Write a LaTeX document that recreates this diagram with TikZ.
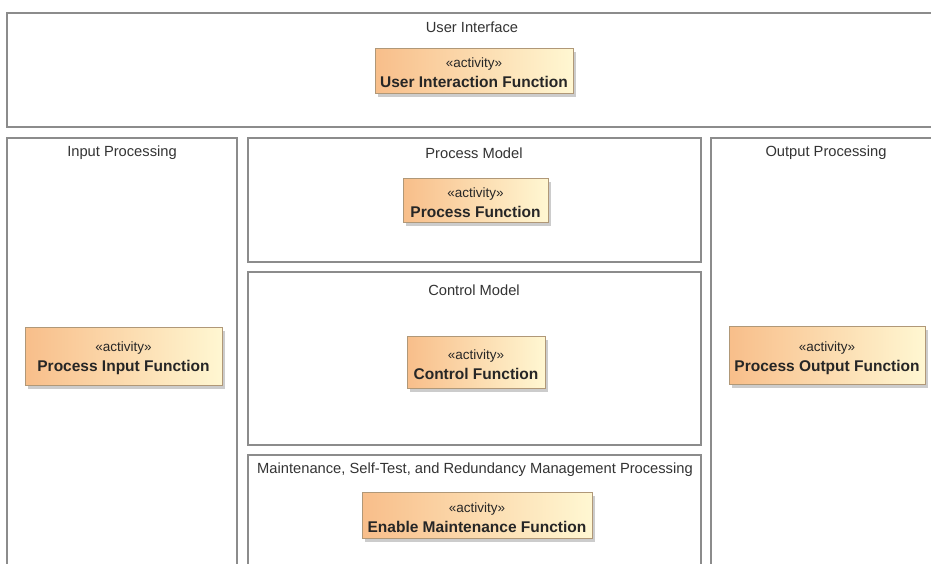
\documentclass[tikz,border=0pt]{standalone}
\usepackage{fontspec}
\setmainfont{Liberation Sans}
\usetikzlibrary{shadows}
\definecolor{framegray}{HTML}{8C8C8C}
\definecolor{actleft}{HTML}{F8BE8A}
\definecolor{actright}{HTML}{FFF7D2}
\definecolor{actborder}{HTML}{B09878}
\definecolor{titletext}{HTML}{333333}
% two-line activity label: stereotype over bold name
\newcommand{\actlabel}[1]{\rule{0pt}{15pt}{\fontsize{13.5}{15}\selectfont «activity»}\\[5pt]{\fontsize{15.5}{17}\selectfont\bfseries #1}}
\begin{document}
\begin{tikzpicture}[x=1pt,y=-1pt,
  frame/.style={draw=framegray, line width=1.6pt},
  ftitle/.style={font=\fontsize{14.7}{16}\selectfont, text=titletext, anchor=center},
  activity/.style={draw=actborder, line width=0.8pt, left color=actleft, right color=actright,
    align=center, inner sep=0pt, text=black!85,
    drop shadow={shadow xshift=3pt, shadow yshift=-3.5pt, fill=black!40, opacity=0.5}},
]
\useasboundingbox (0,0) rectangle (931,563);
\begin{scope}
  \clip (0,0) rectangle (931,563);
  % swimlane frames
  \draw[frame] (7,13) rectangle (945,127);
  \draw[frame] (7,138) rectangle (237,575);
  \draw[frame] (248,138) rectangle (701,262);
  \draw[frame] (248,272) rectangle (701,445);
  \draw[frame] (248,455) rectangle (701,575);
  \draw[frame] (711,138) rectangle (945,575);
\end{scope}

% frame titles
\node[ftitle] (tUI)   at (472,27)  {User Interface};
\node[ftitle] (tIn)   at (122,153) {Input Processing};
\node[ftitle] (tPM)   at (474,153) {Process Model};
\node[ftitle] (tCM)   at (474,290) {Control Model};
\node[ftitle] (tMS)   at (475,470) {Maintenance, Self-Test, and Redundancy Management Processing};
\node[ftitle] (tOut)  at (826,153) {Output Processing};

% activities
\node[activity, minimum width=198, minimum height=45] (ui) at (474,70.5) {\actlabel{User Interaction Function}};
\node[activity, minimum width=145, minimum height=44] (pf) at (475.5,200) {\actlabel{Process Function}};
\node[activity, minimum width=197, minimum height=58] (pi) at (123.5,356) {\actlabel{Process Input Function}};
\node[activity, minimum width=138, minimum height=52] (cf) at (476,362) {\actlabel{Control Function}};
\node[activity, minimum width=196, minimum height=58] (po) at (827,355.5) {\actlabel{Process Output Function}};
\node[activity, minimum width=230, minimum height=46] (em) at (477,515) {\actlabel{Enable Maintenance Function}};
\end{tikzpicture}
\end{document}
